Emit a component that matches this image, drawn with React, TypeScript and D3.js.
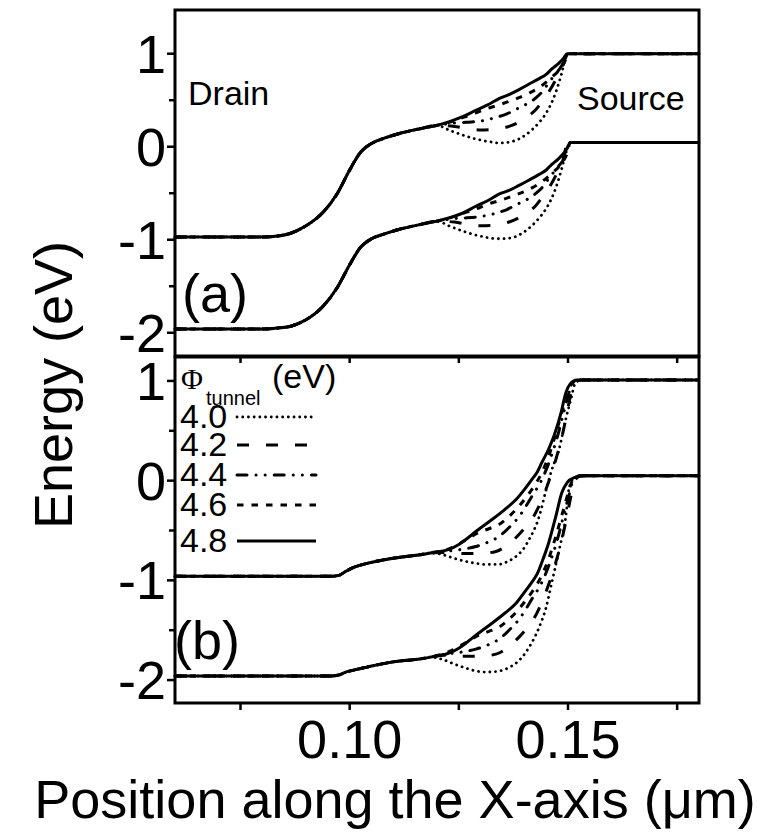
import React from 'react';
import * as d3 from 'd3';

type Pt = [number, number];

// ---------------- data ----------------
const SERIES_LABELS = ['4.0', '4.2', '4.4', '4.6', '4.8'];
const X_TICKS = [0.075, 0.1, 0.125, 0.15, 0.175];
const X_TICK_LABELS = [0.1, 0.15];
const Y_TICKS_MAJOR = [1, 0, -1, -2];
const Y_TICKS_MINOR = [0.5, -0.5, -1.5];

// Panel (a) conduction band
const A_CB_SHARED: Pt[] = [[0.06, -0.97], [0.08, -0.97], [0.0835, -0.96], [0.0865, -0.93], [0.09, -0.85], [0.0938, -0.71], [0.0972, -0.5], [0.1, -0.25], [0.1025, -0.06], [0.105, 0.035], [0.1078, 0.09], [0.1112, 0.14], [0.1158, 0.19], [0.12, 0.23]];
const A_CB_40: Pt[] = [[0.1227, 0.18], [0.1255, 0.132], [0.1285, 0.088], [0.132, 0.054], [0.1345, 0.04], [0.137, 0.054], [0.1395, 0.103], [0.1417, 0.18], [0.1435, 0.267], [0.145, 0.363], [0.1462, 0.469], [0.1472, 0.585], [0.1486, 0.797], [0.1495, 0.961], [0.1505, 1.0], [0.18, 1.0]];
const A_CB_42: Pt[] = [[0.124, 0.218], [0.127, 0.194], [0.13, 0.18], [0.133, 0.185], [0.1358, 0.209], [0.1385, 0.257], [0.1404, 0.315], [0.1425, 0.392], [0.144, 0.479], [0.1458, 0.604], [0.1472, 0.72], [0.1488, 0.874], [0.15, 1.0], [0.18, 1.0]];
const A_CB_44: Pt[] = [[0.1245, 0.257], [0.1266, 0.262], [0.13, 0.276], [0.1335, 0.315], [0.136, 0.353], [0.1381, 0.402], [0.1405, 0.459], [0.1427, 0.527], [0.1445, 0.614], [0.1456, 0.691], [0.1479, 0.826], [0.1492, 0.922], [0.15, 1.0], [0.18, 1.0]];
const A_CB_46: Pt[] = [[0.1225, 0.257], [0.126, 0.315], [0.1289, 0.363], [0.1315, 0.411], [0.1342, 0.45], [0.1365, 0.488], [0.1388, 0.527], [0.141, 0.575], [0.1433, 0.633], [0.1463, 0.749], [0.1486, 0.86], [0.1498, 0.961], [0.1505, 1.0], [0.18, 1.0]];
const A_CB_48: Pt[] = [[0.1227, 0.267], [0.126, 0.325], [0.1289, 0.392], [0.132, 0.459], [0.1342, 0.517], [0.1365, 0.561], [0.1388, 0.614], [0.141, 0.672], [0.1433, 0.73], [0.145, 0.778], [0.1463, 0.836], [0.1478, 0.893], [0.149, 0.951], [0.1498, 1.0], [0.152, 1.0], [0.18, 1.0]];

// Panel (a) valence band
const A_VB_SHARED: Pt[] = [[0.06, -1.96], [0.08, -1.96], [0.0835, -1.95], [0.0865, -1.93], [0.09, -1.86], [0.0938, -1.72], [0.0972, -1.51], [0.1, -1.27], [0.1025, -1.08], [0.105, -0.99], [0.1078, -0.94], [0.1112, -0.89], [0.1158, -0.84], [0.12, -0.8]];
const A_VB_40: Pt[] = [[0.1227, -0.85], [0.1255, -0.9], [0.1285, -0.945], [0.132, -0.98], [0.1345, -0.99], [0.137, -0.98], [0.1395, -0.93], [0.1417, -0.85], [0.1435, -0.76], [0.145, -0.665], [0.1462, -0.56], [0.1472, -0.445], [0.1486, -0.23], [0.1495, -0.07], [0.1505, 0.045], [0.18, 0.045]];
const A_VB_42: Pt[] = [[0.124, -0.81], [0.127, -0.835], [0.13, -0.85], [0.133, -0.845], [0.1358, -0.82], [0.1385, -0.77], [0.1404, -0.715], [0.1425, -0.64], [0.144, -0.55], [0.1458, -0.43], [0.1472, -0.31], [0.1488, -0.15], [0.15, 0.045], [0.18, 0.045]];
const A_VB_44: Pt[] = [[0.1245, -0.77], [0.1266, -0.765], [0.13, -0.75], [0.1335, -0.715], [0.136, -0.675], [0.1381, -0.625], [0.1405, -0.57], [0.1427, -0.5], [0.1445, -0.415], [0.1456, -0.34], [0.1479, -0.205], [0.1492, -0.11], [0.15, 0.045], [0.18, 0.045]];
const A_VB_46: Pt[] = [[0.1225, -0.77], [0.126, -0.715], [0.1289, -0.67], [0.1315, -0.62], [0.1342, -0.58], [0.1365, -0.545], [0.1388, -0.505], [0.141, -0.46], [0.1433, -0.4], [0.1463, -0.285], [0.1486, -0.175], [0.1498, -0.07], [0.1505, 0.045], [0.18, 0.045]];
const A_VB_48: Pt[] = [[0.1227, -0.765], [0.126, -0.71], [0.1289, -0.64], [0.132, -0.57], [0.1342, -0.51], [0.1365, -0.47], [0.1388, -0.415], [0.141, -0.36], [0.1433, -0.3], [0.145, -0.25], [0.1463, -0.19], [0.1478, -0.13], [0.149, -0.07], [0.1498, -0.02], [0.1505, 0.045], [0.18, 0.045]];

// Panel (b) conduction band
const B_CB_SHARED: Pt[] = [[0.06, -0.96], [0.0954, -0.96], [0.0975, -0.95], [0.0991, -0.91], [0.1009, -0.87], [0.104, -0.83], [0.1071, -0.8], [0.1112, -0.77], [0.1158, -0.745], [0.1185, -0.725]];
const B_CB_40: Pt[] = [[0.1211, -0.74], [0.124, -0.78], [0.1266, -0.81], [0.129, -0.83], [0.1312, -0.84], [0.1342, -0.84], [0.1362, -0.81], [0.1381, -0.76], [0.1397, -0.69], [0.1411, -0.59], [0.1434, -0.36], [0.145, -0.09], [0.1463, 0.11], [0.148, 0.32], [0.1495, 0.62], [0.1507, 0.82], [0.1516, 0.97], [0.153, 1.01], [0.18, 1.01]];
const B_CB_42: Pt[] = [[0.1215, -0.72], [0.1257, -0.73], [0.13, -0.73], [0.1335, -0.71], [0.136, -0.65], [0.1381, -0.57], [0.14, -0.48], [0.1417, -0.39], [0.144, -0.19], [0.1455, -0.02], [0.147, 0.18], [0.1485, 0.42], [0.1497, 0.66], [0.1507, 0.88], [0.1515, 0.98], [0.153, 1.01], [0.18, 1.01]];
const B_CB_44: Pt[] = [[0.122, -0.71], [0.1255, -0.69], [0.1289, -0.66], [0.1315, -0.62], [0.1342, -0.56], [0.1365, -0.47], [0.1388, -0.36], [0.1417, -0.16], [0.144, 0.01], [0.1458, 0.2], [0.1475, 0.43], [0.149, 0.68], [0.1502, 0.88], [0.1512, 0.98], [0.1528, 1.01], [0.18, 1.01]];
const B_CB_46: Pt[] = [[0.123, -0.68], [0.126, -0.61], [0.1296, -0.52], [0.132, -0.48], [0.1342, -0.44], [0.1362, -0.37], [0.1381, -0.29], [0.14, -0.19], [0.1417, -0.09], [0.144, 0.08], [0.1456, 0.25], [0.1472, 0.47], [0.1487, 0.7], [0.15, 0.9], [0.151, 0.98], [0.1525, 1.01], [0.18, 1.01]];
const B_CB_48: Pt[] = [[0.1227, -0.69], [0.125, -0.64], [0.1266, -0.59], [0.1295, -0.49], [0.1326, -0.39], [0.1355, -0.29], [0.1381, -0.19], [0.14, -0.09], [0.1417, 0.01], [0.143, 0.09], [0.144, 0.18], [0.1456, 0.32], [0.1468, 0.45], [0.1484, 0.68], [0.1495, 0.88], [0.1505, 0.97], [0.152, 1.01], [0.18, 1.01]];

// Panel (b) valence band
const B_VB_SHARED: Pt[] = [[0.06, -1.96], [0.0954, -1.96], [0.0975, -1.95], [0.0991, -1.92], [0.1009, -1.9], [0.104, -1.87], [0.1071, -1.84], [0.1112, -1.81], [0.1158, -1.79], [0.1185, -1.77]];
const B_VB_40: Pt[] = [[0.1211, -1.79], [0.124, -1.84], [0.1266, -1.88], [0.129, -1.91], [0.1312, -1.92], [0.1342, -1.91], [0.1362, -1.88], [0.1381, -1.83], [0.1397, -1.76], [0.1411, -1.67], [0.1434, -1.47], [0.145, -1.27], [0.1463, -1.02], [0.148, -0.69], [0.1495, -0.36], [0.1502, -0.09], [0.1512, 0.02], [0.153, 0.05], [0.18, 0.05]];
const B_VB_42: Pt[] = [[0.1215, -1.75], [0.1257, -1.76], [0.13, -1.76], [0.1335, -1.74], [0.136, -1.68], [0.1381, -1.6], [0.14, -1.51], [0.1417, -1.42], [0.144, -1.22], [0.1455, -1.05], [0.147, -0.85], [0.1485, -0.61], [0.1497, -0.37], [0.1507, -0.15], [0.1515, 0.0], [0.153, 0.05], [0.18, 0.05]];
const B_VB_44: Pt[] = [[0.122, -1.74], [0.1255, -1.72], [0.1289, -1.69], [0.1315, -1.65], [0.1342, -1.59], [0.1365, -1.5], [0.1388, -1.39], [0.1417, -1.19], [0.144, -1.02], [0.1458, -0.83], [0.1475, -0.6], [0.149, -0.35], [0.1502, -0.15], [0.1512, 0.0], [0.1528, 0.05], [0.18, 0.05]];
const B_VB_46: Pt[] = [[0.123, -1.71], [0.126, -1.64], [0.1296, -1.55], [0.132, -1.51], [0.1342, -1.47], [0.1362, -1.4], [0.1381, -1.32], [0.14, -1.22], [0.1417, -1.12], [0.144, -0.95], [0.1456, -0.78], [0.1472, -0.56], [0.1487, -0.33], [0.15, -0.13], [0.151, 0.0], [0.1525, 0.05], [0.18, 0.05]];
const B_VB_48: Pt[] = [[0.1227, -1.73], [0.125, -1.68], [0.1266, -1.63], [0.1295, -1.53], [0.1326, -1.43], [0.1355, -1.33], [0.1381, -1.23], [0.14, -1.12], [0.1417, -1.02], [0.143, -0.93], [0.144, -0.82], [0.1456, -0.62], [0.1472, -0.36], [0.1486, -0.12], [0.1498, -0.02], [0.1514, 0.03], [0.154, 0.05], [0.18, 0.05]];

// ---------------- styles ----------------
const SANS = '"Liberation Sans", Arial, sans-serif';
const LINE_STYLES = [
  { dash: '0.1,5.6', width: 2.8, cap: 'round' },
  { dash: '12,17', width: 3, cap: 'butt' },
  { dash: '10,9,0.1,9,0.1,9', width: 3, cap: 'round' },
  { dash: '6.5,8', width: 3, cap: 'butt' },
  { dash: 'none', width: 3, cap: 'butt' },
];

const X0 = 175, X1 = 699;
const PANELS = [
  {
    top: 10, bottom: 356, domain: [-2.25, 1.47],
    cb: [A_CB_40, A_CB_42, A_CB_44, A_CB_46, A_CB_48], cbShared: A_CB_SHARED,
    vb: [A_VB_40, A_VB_42, A_VB_44, A_VB_46, A_VB_48], vbShared: A_VB_SHARED,
  },
  {
    top: 357, bottom: 703, domain: [-2.23, 1.24],
    cb: [B_CB_40, B_CB_42, B_CB_44, B_CB_46, B_CB_48], cbShared: B_CB_SHARED,
    vb: [B_VB_40, B_VB_42, B_VB_44, B_VB_46, B_VB_48], vbShared: B_VB_SHARED,
  },
];

export default function App() {
  const x = d3.scaleLinear().domain([0.06, 0.18]).range([X0, X1]);

  return (
    <svg width={773} height={838} style={{ position: 'absolute', left: 0, top: 0, background: '#fff' }}
      xmlns="http://www.w3.org/2000/svg">
      <rect x={0} y={0} width={773} height={838} fill="#fff" />
      {PANELS.map((p, pi) => {
        const y = d3.scaleLinear().domain(p.domain).range([p.bottom, p.top]);
        const line = d3.line<Pt>().x(d => x(d[0])).y(d => y(d[1])).curve(d3.curveMonotoneX);
        return (
          <g key={pi}>
            {[0, 1, 2, 3, 4].map(si => {
              const st = LINE_STYLES[si];
              return (
                <g key={si}>
                  {[p.cbShared.concat(p.cb[si]), p.vbShared.concat(p.vb[si])].map((pts, k) => (
                    <path key={k} d={line(pts) || ''} fill="none" stroke="#000"
                      strokeWidth={st.width} strokeDasharray={st.dash}
                      strokeLinecap={st.cap as any} strokeLinejoin="round" />
                  ))}
                </g>
              );
            })}
            {/* frame */}
            <rect x={X0} y={p.top} width={X1 - X0} height={p.bottom - p.top}
              fill="none" stroke="#000" strokeWidth={3} />
            {/* y ticks */}
            {Y_TICKS_MAJOR.map(t => (
              <g key={'M' + t}>
                <line x1={X0 - 8} x2={X0} y1={y(t)} y2={y(t)} stroke="#000" strokeWidth={2.5} />
                <text x={166} y={y(t) + 19} textAnchor="end" fontFamily={SANS} fontSize={54}>
                  {t < 0 ? '-' + Math.abs(t) : String(t)}
                </text>
              </g>
            ))}
            {Y_TICKS_MINOR.map(t => (
              <line key={'m' + t} x1={X0 - 6} x2={X0} y1={y(t)} y2={y(t)} stroke="#000" strokeWidth={2.5} />
            ))}
            {/* x ticks */}
            {X_TICKS.map(t => (
              <line key={'x' + t} x1={x(t)} x2={x(t)} y1={p.bottom} y2={p.bottom + 7} stroke="#000" strokeWidth={2.5} />
            ))}
          </g>
        );
      })}

      {/* x tick labels */}
      {X_TICK_LABELS.map(t => (
        <text key={t} x={x(t)} y={758} textAnchor="middle" fontFamily={SANS} fontSize={54}>
          {d3.format('.2f')(t)}
        </text>
      ))}

      {/* axis titles */}
      <text x={395} y={818} textAnchor="middle" fontFamily={SANS} fontSize={54}>
        Position along the X-axis (μm)
      </text>
      <text transform="translate(72,385) rotate(-90)" textAnchor="middle" fontFamily={SANS} fontSize={54}>
        Energy (eV)
      </text>

      {/* annotations */}
      <text x={188} y={105} fontFamily={SANS} fontSize={34}>Drain</text>
      <text x={577} y={110} fontFamily={SANS} fontSize={34}>Source</text>
      <text x={182} y={312} fontFamily={SANS} fontSize={54}>(a)</text>
      <text x={174} y={659} fontFamily={SANS} fontSize={54}>(b)</text>

      {/* legend */}
      <text x={181} y={389} fontFamily='"Liberation Serif", "Times New Roman", serif' fontSize={30}>Φ</text>
      <text x={206} y={405} fontFamily={SANS} fontSize={20}>tunnel</text>
      <text x={272} y={388} fontFamily={SANS} fontSize={34}>(eV)</text>
      {SERIES_LABELS.map((lab, i) => {
        const ly = [417, 445, 475, 505, 541][i];
        const st = LINE_STYLES[i];
        return (
          <g key={lab}>
            <text x={180} y={ly + 11} fontFamily={SANS} fontSize={34}>{lab}</text>
            <line x1={237} x2={316} y1={ly} y2={ly} stroke="#000" strokeWidth={st.width}
              strokeDasharray={st.dash} strokeLinecap={st.cap as any} />
          </g>
        );
      })}
    </svg>
  );
}
